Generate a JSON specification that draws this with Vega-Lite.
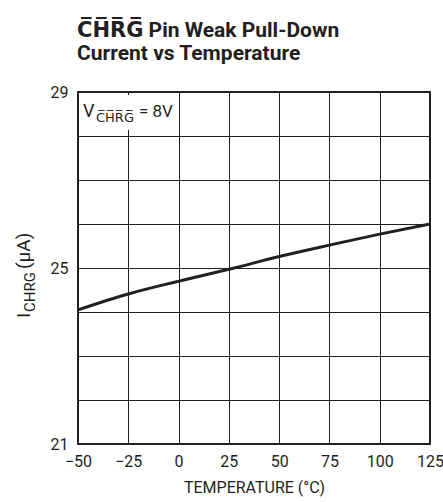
{
  "$schema": "https://vega.github.io/schema/vega-lite/v6.json",
  "width": 352,
  "height": 352,
  "autosize": "none",
  "padding": {"left": 78, "top": 92, "right": 13, "bottom": 58},
  "background": "white",
  "config": {
    "view": {"stroke": "#231f20", "strokeWidth": 2},
    "font": "Roboto"
  },
  "title": {
    "text": ["C̅H̅R̅G̅ Pin Weak Pull-Down", "Current vs Temperature"],
    "anchor": "start",
    "frame": "group",
    "font": "Roboto, DejaVu Sans",
    "fontSize": 21,
    "fontWeight": "bold",
    "color": "#231f20",
    "baseline": "alphabetic",
    "lineHeight": 23,
    "offset": 3,
    "dx": -1
  },
  "layer": [
    {
      "data": {"values": [{"t": -50, "i": 24.05}, {"t": -25, "i": 24.41}, {"t": 0, "i": 24.7}, {"t": 25, "i": 24.97}, {"t": 50, "i": 25.26}, {"t": 75, "i": 25.52}, {"t": 100, "i": 25.77}, {"t": 125, "i": 26.0}]},
      "mark": {"type": "line", "color": "#231f20", "strokeWidth": 3, "interpolate": "monotone"},
      "encoding": {
        "x": {
          "field": "t",
          "type": "quantitative",
          "scale": {"domain": [-50, 125], "nice": false, "zero": false},
          "axis": {
            "values": [-50, -25, 0, 25, 50, 75, 100, 125],
            "format": "d",
            "grid": true,
            "gridColor": "#231f20",
            "gridOpacity": 1,
            "gridWidth": 1,
            "domain": false,
            "ticks": false,
            "labelFont": "Roboto",
            "labelFontSize": 16,
            "labelColor": "#231f20",
            "labelPadding": 9,
            "labelFlush": false,
            "labelOverlap": false,
            "title": "TEMPERATURE (°C)",
            "titleFont": "Roboto",
            "titleFontSize": 16,
            "titleFontWeight": "normal",
            "titleColor": "#231f20",
            "titlePadding": 10
          }
        },
        "y": {
          "field": "i",
          "type": "quantitative",
          "scale": {"domain": [21, 29], "nice": false, "zero": false},
          "axis": {
            "values": [21, 22, 23, 24, 25, 26, 27, 28, 29],
            "labelExpr": "datum.value == 21 || datum.value == 25 || datum.value == 29 ? datum.label : ''",
            "grid": true,
            "gridColor": "#231f20",
            "gridOpacity": 1,
            "gridWidth": 1,
            "domain": false,
            "ticks": false,
            "labelFont": "Roboto",
            "labelFontSize": 16,
            "labelColor": "#231f20",
            "labelPadding": 10,
            "labelOverlap": false,
            "title": null
          }
        }
      }
    },
    {
      "data": {"values": [{"k": 1}]},
      "mark": {"type": "rect", "fill": "white"},
      "encoding": {
        "x": {"datum": -49, "type": "quantitative"},
        "x2": {"datum": -1},
        "y": {"datum": 28.14, "type": "quantitative"},
        "y2": {"datum": 28.93}
      }
    },
    {
      "data": {"values": [{"k": 1}]},
      "mark": {"type": "text", "text": "V", "align": "left", "baseline": "alphabetic", "dx": 5, "dy": 3, "fontSize": 18, "color": "#231f20"},
      "encoding": {"x": {"datum": -50, "type": "quantitative"}, "y": {"datum": 28.5, "type": "quantitative"}}
    },
    {
      "data": {"values": [{"k": 1}]},
      "mark": {"type": "text", "text": "C̅H̅R̅G̅", "font": "Roboto, DejaVu Sans", "align": "left", "baseline": "alphabetic", "dx": 18, "dy": 8, "fontSize": 13, "color": "#231f20"},
      "encoding": {"x": {"datum": -50, "type": "quantitative"}, "y": {"datum": 28.5, "type": "quantitative"}}
    },
    {
      "data": {"values": [{"k": 1}]},
      "mark": {"type": "text", "text": "= 8V", "align": "left", "baseline": "alphabetic", "dx": 61, "dy": 3, "fontSize": 17, "color": "#231f20"},
      "encoding": {"x": {"datum": -50, "type": "quantitative"}, "y": {"datum": 28.5, "type": "quantitative"}}
    },
    {
      "data": {"values": [{"k": 1}]},
      "mark": {"type": "text", "text": "I", "angle": 270, "align": "left", "baseline": "alphabetic", "dx": -50, "dy": -48, "fontSize": 19, "color": "#231f20"},
      "encoding": {"x": {"datum": -50, "type": "quantitative"}, "y": {"datum": 25, "type": "quantitative"}}
    },
    {
      "data": {"values": [{"k": 1}]},
      "mark": {"type": "text", "text": "CHRG", "angle": 270, "align": "left", "baseline": "alphabetic", "dx": -44, "dy": -43, "fontSize": 15, "color": "#231f20"},
      "encoding": {"x": {"datum": -50, "type": "quantitative"}, "y": {"datum": 25, "type": "quantitative"}}
    },
    {
      "data": {"values": [{"k": 1}]},
      "mark": {"type": "text", "text": "(μA)", "angle": 270, "align": "left", "baseline": "alphabetic", "dx": -1, "dy": -48, "fontSize": 19, "color": "#231f20"},
      "encoding": {"x": {"datum": -50, "type": "quantitative"}, "y": {"datum": 25, "type": "quantitative"}}
    }
  ]
}
